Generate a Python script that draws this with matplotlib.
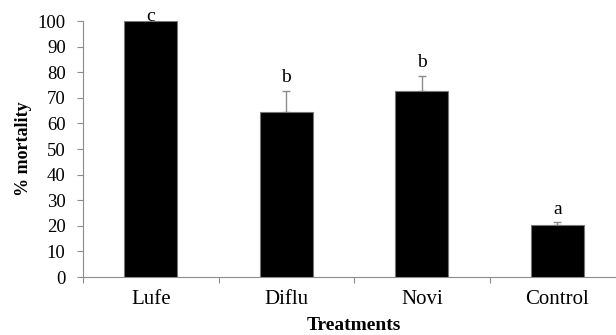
import matplotlib
matplotlib.use("Agg")
import matplotlib.pyplot as plt

# data
treatments = ["Lufe", "Diflu", "Novi", "Control"]
mortality = [100, 64.3, 72.7, 20.2]
errors = [0, 8.5, 6.0, 1.3]
letters = ["c", "b", "b", "a"]

plt.rcParams['font.family'] = ['Liberation Serif', 'DejaVu Serif']
AXIS_GRAY = "#8c8c8c"

fig = plt.figure(figsize=(6.16, 3.35), dpi=100)
W, H = 616, 335
ax = fig.add_axes([83 / W, (H - 277) / H, (625 - 83) / W, (277 - 21) / H])

x = list(range(len(treatments)))
ax.bar(x, mortality, width=0.39, color="black", edgecolor="#777777", linewidth=0.8, zorder=3)
ax.errorbar(x, mortality, yerr=[[0] * len(errors), errors], fmt="none",
            ecolor=AXIS_GRAY, elinewidth=1.0, capsize=3, capthick=1.0, zorder=2)

# significance letters above the error bars
for xi, v, e, lab in zip(x, mortality, errors, letters):
    off = 3 if e > 0 else -3
    ax.annotate(lab, (xi, v + e), xytext=(0, off), textcoords="offset points",
                ha="center", va="bottom", fontsize=14, zorder=1)

ax.set_xlim(-0.5, len(treatments) - 0.5)
ax.set_ylim(0, 100)
ax.set_yticks(range(0, 101, 10))
ax.tick_params(axis="y", labelsize=13.5, length=4.5, color=AXIS_GRAY, width=0.8, pad=8)

# category labels between boundary ticks
ax.set_xticks([i - 0.5 for i in range(len(treatments) + 1)])
ax.set_xticklabels([])
ax.tick_params(axis="x", length=4.5, color=AXIS_GRAY, width=0.8)
ax.set_xticks(x, minor=True)
ax.set_xticklabels(treatments, minor=True)
ax.tick_params(axis="x", which="minor", length=0, labelsize=15, pad=9)

for side in ["top", "right"]:
    ax.spines[side].set_visible(False)
for side in ["left", "bottom"]:
    ax.spines[side].set_color(AXIS_GRAY)
    ax.spines[side].set_linewidth(0.8)

ax.set_xlabel("Treatments", fontsize=14, fontweight="bold", labelpad=6)
ax.set_ylabel("% mortality", fontsize=13, fontweight="bold", labelpad=4)

fig.savefig("out.png", dpi=100)
